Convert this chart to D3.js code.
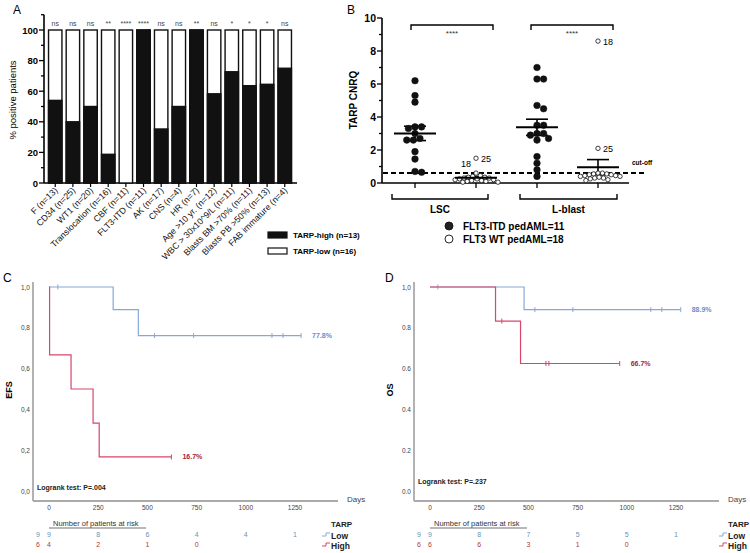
<!DOCTYPE html>
<html><head><meta charset="utf-8">
<script src="https://cdn.jsdelivr.net/npm/d3@7"></script>
<style>
html,body{margin:0;padding:0;background:#fff;}
text{font-family:"Liberation Sans",Arial,sans-serif;}
</style></head>
<body><svg id="fig" width="750" height="553"></svg>
<script>
// ---------- Panel A data ----------
const barCategories = ["F (n=13)","CD34 (n=25)","WT1 (n=20)","Translocation (n=16)","CBF (n=11)","FLT3-ITD (n=11)","AK (n=17)","CNS (n=4)","HR (n=7)","Age >10 yr. (n=12)","WBC > 30x10^9/L (n=11)","Blasts BM >70% (n=11)","Blasts PB >50% (n=13)","FAB immature (n=4)"];
const tarpHighPct = [54, 40, 50, 18.75, 0, 100, 35.3, 50, 100, 58.3, 72.7, 63.6, 64.5, 75];
const sigLabels = ["ns","ns","ns","**","****","****","ns","ns","**","ns","*","*","*","ns"];
const yTicksA = [0,20,40,60,80,100];
const legendA = ["TARP-high (n=13)","TARP-low (n=16)"];

// ---------- Panel B data ----------
const scatterGroups = ["LSC FLT3-ITD","LSC WT","L-blast FLT3-ITD","L-blast WT"];
const lscItd = [6.2,5.3,4.9,3.4,3.4,3.3,3.0,2.7,2.6,2.6,1.9,1.45,0.7,0.65];
const lscWt = [1.5,0.6,0.45,0.4,0.35,0.35,0.3,0.3,0.25,0.25,0.2,0.2,0.15,0.15,0.1,0.1,0.05,0.05];
const lblastItd = [7.0,6.3,6.3,4.7,4.5,3.5,3.5,3.0,3.0,2.9,2.7,2.6,1.6,1.2,0.8,0.4];
const lblastWt = [8.6,2.1,0.6,0.6,0.55,0.55,0.5,0.5,0.45,0.45,0.4,0.4,0.35,0.3,0.3,0.25,0.2,0.15];
const yTicksB = [0,2,4,6,8,10];
const cutoff = 0.6;
const outlierLabels = [{g:1,v:1.5,t:"25"},{g:1,v:0.6,t:"18"},{g:3,v:8.6,t:"18"},{g:3,v:2.1,t:"25"}];
const groupLabels = ["LSC","L-blast"];
const legendB = ["FLT3-ITD pedAML=11","FLT3 WT pedAML=18"];

// ---------- Panel C / D data (Kaplan-Meier) ----------
const daysTicks = [0,250,500,750,1000,1250];
const survTicks = [0,0.2,0.4,0.6,0.8,1.0];
const efsLowSteps = [[0,1],[326,0.889],[454,0.762]];
const efsLowEnd = 1281;
const efsLowCensor = [45,536,735,1133,1189,1281];
const efsHighSteps = [[0,1],[3,0.667],[112,0.5],[224,0.333],[255,0.167]];
const efsHighEnd = 622;
const efsHighCensor = [622];
const osLowSteps = [[0,1],[478,0.889]];
const osLowEnd = 1274;
const osLowCensor = [40,533,726,1122,1178,1274];
const osHighSteps = [[0,1],[333,0.833],[460,0.625]];
const osHighEnd = 964;
const osHighCensor = [365,589,604,964];
const efsRiskLow = [9,9,8,6,4,4,1];
const efsRiskHigh = [6,4,2,1,0];
const osRiskLow = [9,9,8,7,5,5,1];
const osRiskHigh = [6,6,6,3,1,0];

const svg = d3.select("#fig");
svg.append("rect").attr("width",750).attr("height",553).attr("fill","#fff");

// ================= Panel A =================
const gA = svg.append("g");
gA.append("text").attr("x",13).attr("y",14).attr("font-size",12).text("A");
const xA = d3.scaleBand().domain(barCategories).range([45,295]).paddingInner(0.24).paddingOuter(0.2);
const yA = d3.scaleLinear().domain([0,100]).range([183,30]);
gA.append("line").attr("x1",44).attr("x2",44).attr("y1",yA(110)).attr("y2",yA(0)).attr("stroke","#000").attr("stroke-width",1.6);
gA.append("line").attr("x1",44).attr("x2",297).attr("y1",yA(0)).attr("y2",yA(0)).attr("stroke","#000").attr("stroke-width",1.6);
d3.range(0,111,10).forEach(v=>{
  const major = v%20===0 && v<=100;
  gA.append("line").attr("x1",major?39:41).attr("x2",44).attr("y1",yA(v)).attr("y2",yA(v)).attr("stroke","#000").attr("stroke-width",1.3);
});
gA.selectAll(".ytA").data(yTicksA).join("text").attr("x",38).attr("y",d=>yA(d)+3.5)
  .attr("text-anchor","end").attr("font-size",9.5).attr("font-weight","bold").text(d=>d);
gA.append("text").attr("transform","translate(16,100) rotate(-90)").attr("text-anchor","middle")
  .attr("font-size",9.5).text("% positive patients");
barCategories.forEach((c,i)=>{
  const x0 = xA(c), w = xA.bandwidth();
  gA.append("rect").attr("x",x0).attr("y",yA(100)).attr("width",w).attr("height",yA(0)-yA(100))
    .attr("fill","#fff").attr("stroke","#111").attr("stroke-width",1.4);
  if (tarpHighPct[i]>0) gA.append("rect").attr("x",x0).attr("y",yA(tarpHighPct[i])).attr("width",w)
    .attr("height",yA(0)-yA(tarpHighPct[i])).attr("fill","#111").attr("stroke","#111").attr("stroke-width",1.4);
  gA.append("line").attr("x1",x0+w/2).attr("x2",x0+w/2).attr("y1",yA(0)).attr("y2",yA(0)+4).attr("stroke","#000").attr("stroke-width",1.2);
  gA.append("text").attr("x",x0+w/2).attr("y",26).attr("text-anchor","middle").attr("font-size",7).attr("fill","#444").text(sigLabels[i]);
  gA.append("text").attr("transform",`translate(${x0+w/2+3},${yA(0)+8}) rotate(-45)`).attr("text-anchor","end")
    .attr("font-size",8.8).attr("fill","#111").text(c);
});
legendA.forEach((t,i)=>{
  const y = 232+i*16;
  gA.append("rect").attr("x",268).attr("y",y).attr("width",19).attr("height",6)
    .attr("fill",i===0?"#111":"#fff").attr("stroke","#111").attr("stroke-width",1.2);
  gA.append("text").attr("x",293).attr("y",y+6).attr("font-size",8).attr("font-weight","bold").text(t);
});

// ================= Panel B =================
const gB = svg.append("g");
gB.append("text").attr("x",347).attr("y",14).attr("font-size",12).text("B");
const yB = d3.scaleLinear().domain([0,10]).range([183,18]);
const xB = d3.scalePoint().domain(scatterGroups).range([415,598]);
gB.append("line").attr("x1",382).attr("x2",382).attr("y1",yB(10)).attr("y2",yB(0)).attr("stroke","#000").attr("stroke-width",1.6);
gB.append("line").attr("x1",382).attr("x2",629).attr("y1",yB(0)).attr("y2",yB(0)).attr("stroke","#000").attr("stroke-width",1.6);
d3.range(0,11,1).forEach(v=>{
  gB.append("line").attr("x1",v%2===0?377:379).attr("x2",382).attr("y1",yB(v)).attr("y2",yB(v)).attr("stroke","#000").attr("stroke-width",1.3);
});
gB.selectAll(".ytB").data(yTicksB).join("text").attr("x",376).attr("y",d=>yB(d)+4)
  .attr("text-anchor","end").attr("font-size",10.5).attr("font-weight","bold").text(d=>d);
gB.append("text").attr("transform","translate(357,100) rotate(-90)").attr("text-anchor","middle")
  .attr("font-size",10).attr("font-weight","bold").text("TARP CNRQ");
scatterGroups.forEach(g=>{
  gB.append("line").attr("x1",xB(g)).attr("x2",xB(g)).attr("y1",yB(0)).attr("y2",yB(0)+5).attr("stroke","#000").attr("stroke-width",1.3);
});
gB.append("line").attr("x1",383).attr("x2",647).attr("y1",yB(cutoff)).attr("y2",yB(cutoff))
  .attr("stroke","#000").attr("stroke-width",2).attr("stroke-dasharray","5,3");
gB.append("text").attr("x",632).attr("y",yB(cutoff)-8).attr("font-size",6.5).attr("font-weight","bold").text("cut-off");

function swarm(values, cx, r){
  const pts = values.map(v=>({v, y:yB(v)})).sort((a,b)=>b.v-a.v);
  const placed = [];
  const offs=[0]; for(let j=1;j<60;j++){offs.push(j*r*0.5);offs.push(-j*r*0.5);}
  pts.forEach(p=>{
    for(const o of offs){
      const x=cx+o;
      if(placed.every(q=>(q.x-x)**2+(q.y-p.y)**2 >= (2*r)**2*0.92)){p.x=x;break;}
    }
    placed.push(p);
  });
  return placed;
}
const groupData = [lscItd, lscWt, lblastItd, lblastWt];
groupData.forEach((vals,gi)=>{
  const cx = xB(scatterGroups[gi]);
  const filled = gi%2===0;
  const r = filled?3.3:2.2;
  const pts = swarm(vals,cx,r);
  const m = d3.mean(vals), sem = d3.deviation(vals)/Math.sqrt(vals.length);
  gB.append("line").attr("x1",cx).attr("x2",cx).attr("y1",yB(m+sem)).attr("y2",yB(m-sem)).attr("stroke","#000").attr("stroke-width",1.6);
  [m+sem,m-sem].forEach(v=>gB.append("line").attr("x1",cx-11).attr("x2",cx+11).attr("y1",yB(v)).attr("y2",yB(v)).attr("stroke","#000").attr("stroke-width",1.6));
  gB.selectAll(null).data(pts).join("circle").attr("cx",d=>d.x).attr("cy",d=>d.y).attr("r",r)
    .attr("fill",filled?"#111":"#fff").attr("stroke","#111").attr("stroke-width",filled?0.5:0.8);
  gB.append("line").attr("x1",cx-21).attr("x2",cx+21).attr("y1",yB(m)).attr("y2",yB(m)).attr("stroke","#000").attr("stroke-width",2);
  pts.forEach(p=>{
    outlierLabels.filter(o=>o.g===gi && o.v===p.v).forEach(o=>{
      const left = (gi===1 && o.v===0.6);
      gB.append("text").attr("x",left?p.x-15:p.x+5).attr("y",left?p.y-6:p.y+3.5)
        .attr("font-size",9).text(o.t);
    });
  });
});
[[411,493],[531,613]].forEach(([x1,x2])=>{
  gB.append("path").attr("d",`M${x1},30V25H${x2}V30`).attr("fill","none").attr("stroke","#000").attr("stroke-width",1.4);
  gB.append("text").attr("x",(x1+x2)/2).attr("y",36).attr("text-anchor","middle").attr("font-size",8).attr("fill","#333").text("****");
});
groupLabels.forEach((t,k)=>{
  const x1 = k===0?392:520, x2 = k===0?488:617;
  gB.append("path").attr("d",`M${x1},194V199H${x2}V194`).attr("fill","none").attr("stroke","#000").attr("stroke-width",1.4);
  gB.append("text").attr("x",(x1+x2)/2).attr("y",213).attr("text-anchor","middle").attr("font-size",10).attr("font-weight","bold").text(t);
});
legendB.forEach((t,i)=>{
  const y = 226+i*13;
  gB.append("circle").attr("cx",449).attr("cy",y).attr("r",4).attr("fill",i===0?"#222":"#fff").attr("stroke","#111").attr("stroke-width",0.9);
  gB.append("text").attr("x",463).attr("y",y+4).attr("font-size",10).attr("font-weight","bold").text(t);
});

// ================= Panels C & D =================
const blueLine="#86a8d8", redLine="#d9456b", blueTxt="#6b8ec6", redTxt="#a5233a", blueNum="#6a93b5", redNum="#b2363a";
function kmPanel(opt){
  const g = svg.append("g");
  const x = d3.scaleLinear().domain([0,1250]).range([opt.x0, opt.x0+246]);
  const y = d3.scaleLinear().domain([0,1]).range([491,287]);
  const ax = opt.axisX;
  g.append("text").attr("x",opt.labelX).attr("y",282).attr("font-size",12).text(opt.letter);
  g.append("line").attr("x1",ax).attr("x2",ax).attr("y1",282).attr("y2",501).attr("stroke","#aaa").attr("stroke-width",1.8);
  g.append("line").attr("x1",ax).attr("x2",ax+305).attr("y1",501).attr("y2",501).attr("stroke","#aaa").attr("stroke-width",1.8);
  survTicks.forEach(v=>{
    g.append("text").attr("x",ax-3).attr("y",y(v)+2.5).attr("text-anchor","end").attr("font-size",6.5).attr("fill","#444")
      .text(opt.fmtY(v));
  });
  daysTicks.forEach(d=>g.append("text").attr("x",x(d)).attr("y",510).attr("text-anchor","middle").attr("font-size",6.5).attr("fill","#444").text(d));
  g.append("text").attr("x",ax+314).attr("y",502).attr("font-size",8).attr("fill","#444").text("Days");
  g.append("text").attr("transform",`translate(${ax-21},${390}) rotate(-90)`).attr("text-anchor","middle")
    .attr("font-size",9).attr("font-weight","bold").text(opt.yLabel);
  g.append("text").attr("x",ax+4).attr("y",opt.logY).attr("font-size",7).attr("font-weight","bold").attr("fill","#222").text(opt.logrank);
  function path(steps,end){
    let d=`M${x(steps[0][0])},${y(steps[0][1])}`;
    for(let i=1;i<steps.length;i++) d+=`H${x(steps[i][0])}V${y(steps[i][1])}`;
    return d+`H${x(end)}`;
  }
  function surv(steps,t){let s=1;steps.forEach(([tt,v])=>{if(t>=tt)s=v;});return s;}
  [[opt.low,blueLine],[opt.high,redLine]].forEach(([c,col])=>{
    g.append("path").attr("d",path(c.steps,c.end)).attr("fill","none").attr("stroke",col).attr("stroke-width",1.2);
    c.censor.forEach(t=>{
      const yy=y(surv(c.steps,t));
      g.append("line").attr("x1",x(t)).attr("x2",x(t)).attr("y1",yy-2.5).attr("y2",yy+2.5).attr("stroke",col).attr("stroke-width",1);
    });
    const last=c.steps[c.steps.length-1][1];
    g.append("text").attr("x",x(c.end)+11).attr("y",y(last)+2.5).attr("font-size",7).attr("font-weight","bold")
      .attr("fill",col===blueLine?blueTxt:redTxt).text(c.label);
  });
  g.append("text").attr("x",x(0)+4).attr("y",526).attr("font-size",7.5).attr("fill","#333").text("Number of patients at risk");
  g.append("line").attr("x1",x(0)).attr("x2",x(0)+97).attr("y1",528).attr("y2",528).attr("stroke","#333").attr("stroke-width",0.7);
  [[opt.riskLow,blueNum,537],[opt.riskHigh,redNum,547]].forEach(([arr,col,yy])=>{
    arr.forEach((n,i)=>{
      const xx = i===0 ? x(0)-11 : x(daysTicks[i-1]);
      g.append("text").attr("x",xx).attr("y",yy).attr("text-anchor","middle").attr("font-size",7).attr("fill",col).text(n);
    });
  });
  g.append("text").attr("x",opt.legX).attr("y",527).attr("font-size",8).attr("font-weight","bold").attr("fill","#222").text("TARP");
  [["Low",blueLine,538],["High",redLine,548]].forEach(([t,col,yy])=>{
    g.append("path").attr("d",`M${opt.legX-9},${yy-2}h4v-3h4`).attr("fill","none").attr("stroke",col).attr("stroke-width",1);
    g.append("text").attr("x",opt.legX).attr("y",yy+1).attr("font-size",8.5).attr("font-weight","bold").attr("fill","#222").text(t);
  });
}
kmPanel({letter:"C",labelX:3,axisX:33,x0:49,yLabel:"EFS",logrank:"Logrank test: P=.004",logY:490,
  fmtY:v=>v.toFixed(1).replace(".",","),
  low:{steps:efsLowSteps,end:efsLowEnd,censor:efsLowCensor,label:"77.8%"},
  high:{steps:efsHighSteps,end:efsHighEnd,censor:efsHighCensor,label:"16.7%"},
  riskLow:efsRiskLow,riskHigh:efsRiskHigh,legX:331});
kmPanel({letter:"D",labelX:385,axisX:414,x0:430,yLabel:"OS",logrank:"Logrank test: P=.237",logY:484,
  fmtY:v=>v===1?"1,0":v.toFixed(1),
  low:{steps:osLowSteps,end:osLowEnd,censor:osLowCensor,label:"88.9%"},
  high:{steps:osHighSteps,end:osHighEnd,censor:osHighCensor,label:"66.7%"},
  riskLow:osRiskLow,riskHigh:osRiskHigh,legX:728});
</script></body></html>
